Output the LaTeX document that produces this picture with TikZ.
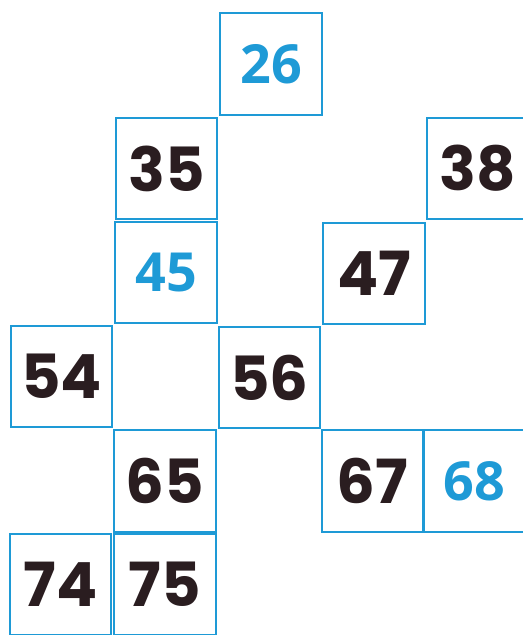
\documentclass[tikz,border=0pt]{standalone}
\usepackage{fontspec}
\setmainfont{Open Sans}
\newfontfamily\handfont{Poppins}
\usetikzlibrary{positioning}
\definecolor{gridblue}{HTML}{1E9AD6}
\definecolor{penink}{HTML}{2A1D20}
\tikzset{
  cell/.style={draw=gridblue,line width=1.6pt,minimum size=3.04cm,inner sep=0pt},
  given/.style={cell,text=gridblue,font=\fontsize{46}{50}\selectfont\bfseries},
  filled/.style={cell,text=penink,font=\handfont\fontsize{52}{56}\selectfont\bfseries}
}
\begin{document}
\begin{tikzpicture}[x=0.03cm,y=-0.03cm]
  \useasboundingbox (0,0) rectangle (522,635);
  \node[given] (n26) at (271,64) {26};
  \node[filled] (n35) at (166.5,168.5) {35};
  \node[filled] (n38) at (478,168.5) {38};
  \node[given] (n45) at (166,272.5) {45};
  \node[filled] (n47) at (374,273.5) {47};
  \node[filled] (n54) at (61.5,376.5) {54};
  \node[filled] (n56) at (269.5,377.5) {56};
  \node[filled] (n65) at (165,481) {65};
  \node[filled] (n67) at (372.5,481) {67};
  \node[given] (n68) at (474.5,481) {68};
  \node[filled] (n74) at (60.5,584.5) {74};
  \node[filled] (n75) at (165,584.5) {75};
\end{tikzpicture}
\end{document}
